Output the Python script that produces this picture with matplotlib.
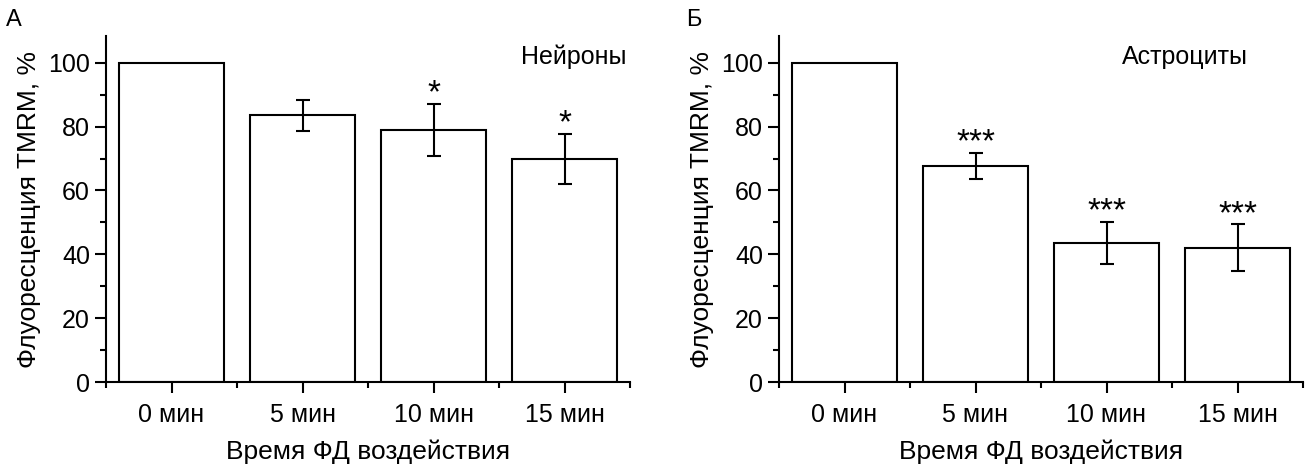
import matplotlib
matplotlib.use('Agg')
import matplotlib.pyplot as plt
from matplotlib.ticker import MultipleLocator, FixedLocator

plt.rcParams['font.family'] = ['Liberation Sans', 'DejaVu Sans']

categories = ['0 мин', '5 мин', '10 мин', '15 мин']
neurons = [100, 83.5, 79.1, 69.8]
neurons_err = [0, 4.85, 8.15, 7.9]
neurons_stars = ['', '', '*', '*']
astro = [100, 67.7, 43.5, 42.1]
astro_err = [0, 4.0, 6.6, 7.3]
astro_stars = ['', '***', '***', '***']

fig = plt.figure(figsize=(13.09, 4.66), dpi=100)
ax1 = fig.add_axes([106 / 1309, 1 - 382 / 466, 524 / 1309, 346 / 466])
ax2 = fig.add_axes([779 / 1309, 1 - 382 / 466, 524 / 1309, 346 / 466])

FS = 18


def draw_panel(ax, vals, errs, stars, title, title_x):
    x = list(range(len(categories)))
    ax.bar(x, vals, width=0.8, color='white', edgecolor='black', linewidth=1.5)
    xe = [i for i in x if errs[i] > 0]
    ax.errorbar(xe, [vals[i] for i in xe], yerr=[errs[i] for i in xe],
                fmt='none', ecolor='black', elinewidth=1.5, capsize=5, capthick=1.5)
    for i in x:
        if stars[i]:
            ax.annotate(stars[i], (i, vals[i] + errs[i]), xytext=(0, -4),
                        textcoords='offset points', ha='center', va='bottom',
                        fontsize=24)
    ax.set_xlim(-0.5, 3.5)
    ax.set_ylim(0, 108.4)
    ax.set_xticks(x)
    ax.set_xticklabels(categories)
    ax.xaxis.set_minor_locator(FixedLocator([-0.5, 0.5, 1.5, 2.5, 3.5]))
    ax.yaxis.set_major_locator(MultipleLocator(20))
    ax.yaxis.set_minor_locator(MultipleLocator(10))
    ax.tick_params(axis='both', which='major', direction='out', length=8,
                   width=1.5, labelsize=FS)
    ax.tick_params(axis='both', which='minor', direction='out', length=4, width=1.5)
    ax.tick_params(axis='x', which='major', pad=7)
    for s in ['top', 'right']:
        ax.spines[s].set_visible(False)
    for s in ['left', 'bottom']:
        ax.spines[s].set_linewidth(1.5)
    ax.set_ylabel('Флуоресценция TMRM, %', fontsize=19, labelpad=5)
    ax.set_xlabel('Время ФД воздействия', fontsize=19, labelpad=9)
    ax.text(title_x, 101.8, title, ha='right', va='center', fontsize=FS)


draw_panel(ax1, neurons, neurons_err, neurons_stars, 'Нейроны', 3.47)
draw_panel(ax2, astro, astro_err, astro_stars, 'Астроциты', 3.08)

fig.text(6 / 1309, 1 - 20 / 466, 'А', fontsize=17, ha='left', va='center')
fig.text(686 / 1309, 1 - 20 / 466, 'Б', fontsize=17, ha='left', va='center')

fig.savefig('out.png', dpi=100)
